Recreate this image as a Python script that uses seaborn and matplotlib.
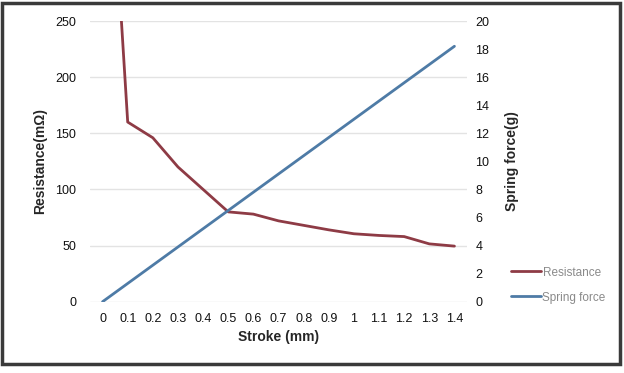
import matplotlib
matplotlib.use("Agg")
import matplotlib.pyplot as plt
import seaborn as sns
import pandas as pd
from matplotlib.patches import Rectangle

stroke_labels = ["0", "0.1", "0.2", "0.3", "0.4", "0.5", "0.6", "0.7", "0.8", "0.9", "1", "1.1", "1.2", "1.3", "1.4"]
resistance = [520, 160, 146, 120, 100, 80, 78, 72, 68, 64, 60.5, 59, 58, 51.5, 49.5]
spring_force = [0, 1.3, 2.6, 3.9, 5.2, 6.5, 7.8, 9.1, 10.4, 11.7, 13.0, 14.3, 15.6, 16.9, 18.2]

sns.set_style("white")
plt.rcParams['font.family'] = ['Liberation Sans', 'DejaVu Sans']

df = pd.DataFrame({"idx": range(len(stroke_labels)), "Resistance": resistance, "Spring force": spring_force})

red = "#8E3B45"
blue = "#4E7BA6"

fig = plt.figure(figsize=(6.24, 3.73), dpi=100)
ax = fig.add_axes([90/624, 1-301.7/373, (467-90)/624, (301.7-21)/373])
ax2 = ax.twinx()

sns.lineplot(data=df, x="idx", y="Resistance", ax=ax, color=red, linewidth=2.0, legend=False)
sns.lineplot(data=df, x="idx", y="Spring force", ax=ax2, color=blue, linewidth=2.0, legend=False)

ax.set_xlim(-0.5, len(stroke_labels) - 0.5)
ax.set_ylim(0, 250)
ax2.set_ylim(0, 20)
ax.set_yticks(range(0, 251, 50))
ax2.set_yticks(range(0, 21, 2))
ax.set_xticks(range(len(stroke_labels)))
ax.set_xticklabels(stroke_labels)

ax.yaxis.grid(True, color="#E3E3E3", linewidth=1.0)
ax.set_axisbelow(True)
for a in (ax, ax2):
    for s in a.spines.values():
        s.set_visible(False)
    a.tick_params(length=0, labelsize=9, colors="#111111")
ax.tick_params(axis="y", pad=10)
ax.tick_params(axis="x", pad=8)
ax2.tick_params(axis="y", pad=6)

ax.set_xlabel("Stroke (mm)", fontsize=10, fontweight="bold", labelpad=4)
ax.set_ylabel("Resistance(mΩ)", fontsize=10, fontweight="bold", labelpad=6)
ax2.set_ylabel("Spring force(g)", fontsize=10, fontweight="bold", labelpad=11)

h1 = plt.Line2D([], [], color=red, linewidth=2.0)
h2 = plt.Line2D([], [], color=blue, linewidth=2.0)
fig.legend([h1, h2], ["Resistance", "Spring force"], loc="upper left",
           bbox_to_anchor=(500/624, 1-256/373), frameon=False, fontsize=8.5,
           labelcolor="#8A8A8A", handlelength=2.6, handletextpad=0.1, labelspacing=1.1)

fig.add_artist(Rectangle((2/624, 1-364/373), 618/624, 361/373, transform=fig.transFigure,
                         fill=False, edgecolor="#3A3A3A", linewidth=2.5))

fig.savefig("out.png", dpi=100)
